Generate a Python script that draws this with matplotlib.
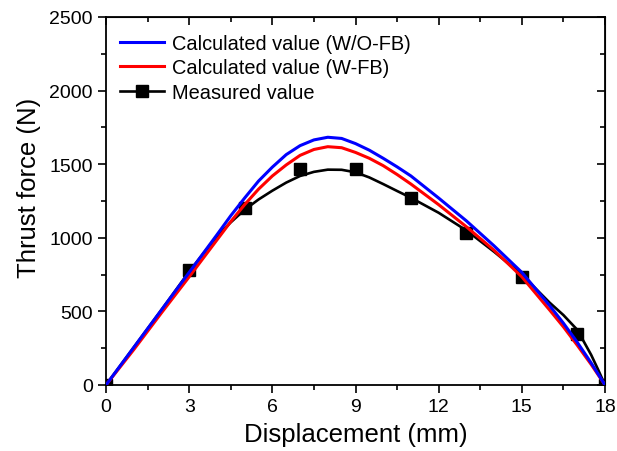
import numpy as np
import matplotlib.pyplot as plt
from matplotlib.ticker import MultipleLocator

plt.rcParams['font.family'] = ['Liberation Sans', 'DejaVu Sans']

# 计算曲线
x_curve = [0, 1, 2, 3, 4, 4.5, 5, 5.5, 6, 6.5, 7, 7.5, 8, 8.5, 9, 9.5, 10, 10.5,
           11, 12, 13, 14, 15, 16, 16.5, 17, 17.5, 17.75, 18]
y_wo_fb = [0, 255, 510, 765, 1020, 1150, 1270, 1385, 1480, 1565, 1626, 1665, 1683,
           1675, 1640, 1595, 1540, 1482, 1420, 1270, 1115, 945, 765, 540, 420, 290,
           150, 75, 0]
y_w_fb = [0, 240, 490, 735, 985, 1110, 1225, 1330, 1420, 1495, 1560, 1600, 1619,
          1612, 1580, 1540, 1490, 1430, 1365, 1225, 1075, 915, 735, 510, 395, 270,
          140, 70, 0]
y_fit = [0, 255, 510, 770, 1010, 1105, 1190, 1260, 1320, 1375, 1420, 1448, 1463,
         1462, 1445, 1410, 1365, 1318, 1272, 1170, 1050, 905, 750, 560, 475, 375,
         205, 105, 0]

# 实测值
x_meas = [0, 3, 5, 7, 9, 11, 13, 15, 17, 18]
y_meas = [0, 783, 1202, 1467, 1467, 1272, 1035, 734, 344, 0]

fig = plt.figure(figsize=(6.17, 4.52), dpi=100)
ax = fig.add_axes([106/617, 1-386/452, (605-106)/617, (386-18)/452])

# 实测 + 拟合 (最底层)
ax.plot(x_curve, y_fit, color='black', linewidth=1.9, zorder=2)
ax.plot(x_meas, y_meas, linestyle='none', marker='s', markersize=8.5,
        color='black', zorder=2)
ax.plot(x_curve, y_w_fb, color='#ff0000', linewidth=2.2, zorder=3)
ax.plot(x_curve, y_wo_fb, color='#0000ff', linewidth=2.2, zorder=4)

# 图例用的句柄
h1, = ax.plot([], [], color='#0000ff', linewidth=2.2)
h2, = ax.plot([], [], color='#ff0000', linewidth=2.2)
h3, = ax.plot([], [], color='black', linewidth=1.9, marker='s', markersize=8.5)
ax.legend([h1, h2, h3],
          ['Calculated value (W/O-FB)', 'Calculated value (W-FB)', 'Measured value'],
          loc='upper left', frameon=False, fontsize=14.4, handlelength=2.2,
          handletextpad=0.4, labelspacing=0.27, borderaxespad=0.0,
          bbox_to_anchor=(0.012, 0.976))

ax.set_xlim(0, 18)
ax.set_ylim(0, 2500)
ax.set_xticks(np.arange(0, 19, 3))
ax.set_yticks(np.arange(0, 2501, 500))
ax.xaxis.set_minor_locator(MultipleLocator(1.5))
ax.yaxis.set_minor_locator(MultipleLocator(250))
ax.tick_params(which='both', direction='out', labelsize=14, width=1.2)
ax.tick_params(which='major', length=6)
ax.tick_params(which='minor', length=3.5)

# 顶部和右侧刻度朝内
top = ax.secondary_xaxis('top')
top.set_xticks(np.arange(0, 19, 3))
top.xaxis.set_minor_locator(MultipleLocator(1.5))
top.tick_params(which='both', direction='in', labeltop=False, width=1.2)
top.tick_params(which='major', length=6)
top.tick_params(which='minor', length=3.5)
right = ax.secondary_yaxis('right')
right.set_yticks(np.arange(0, 2501, 500))
right.yaxis.set_minor_locator(MultipleLocator(250))
right.tick_params(which='both', direction='in', labelright=False, width=1.2)
right.tick_params(which='major', length=6)
right.tick_params(which='minor', length=3.5)

for s in ax.spines.values():
    s.set_linewidth(1.3)

ax.set_xlabel('Displacement (mm)', fontsize=18.5)
ax.set_ylabel('Thrust force (N)', fontsize=18.5)
ax.xaxis.set_label_coords(0.5, -0.1)
ax.yaxis.set_label_coords(-0.13, 0.538)

fig.savefig('out.png', dpi=100)
